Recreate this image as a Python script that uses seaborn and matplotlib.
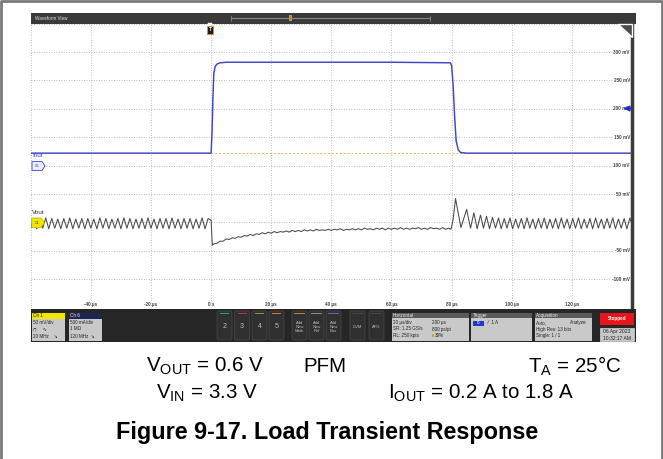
import matplotlib
matplotlib.use("Agg")
import matplotlib.pyplot as plt
from matplotlib.patches import Rectangle, Polygon, FancyBboxPatch
import pandas as pd
import seaborn as sns

# Ch6 output current (A), 500 mA/div
IOUT_T = [-60, -30, 0, 0.3, 0.6, 0.9, 1.3, 2, 3, 5, 20, 40, 60, 79.6,
          80.0, 80.5, 81.0, 81.5, 82.2, 83, 85, 110, 140]
IOUT_A = [0.20, 0.20, 0.20, 0.55, 1.15, 1.60, 1.72, 1.77, 1.79, 1.80, 1.80, 1.80, 1.80, 1.79,
          1.74, 1.40, 0.85, 0.42, 0.26, 0.21, 0.20, 0.20, 0.20]

# Ch1 output voltage (mV, AC), 50 mV/div -- PFM ripple before the step
VOUT_PRE_T = [-60, -59, -58, -57, -56, -55, -54, -53, -52, -51,
              -50, -49, -48, -47, -46, -45, -44, -43, -42, -41,
              -40, -39, -38, -37, -36, -35, -34, -33, -32, -31,
              -30, -29, -28, -27, -26, -25, -24, -23, -22, -21,
              -20, -19, -18, -17, -16, -15, -14, -13, -12, -11,
              -10, -9, -8, -7, -6, -5, -4, -3, -2, -1]
VOUT_PRE_MV = [-10, 7, -11, 6, -10, 8, -11, 7, -10, 6,
               -11, 7, -10, 8, -11, 6, -10, 7, -11, 7,
               -10, 6, -11, 8, -10, 7, -11, 6, -10, 7,
               -11, 8, -10, 7, -11, 6, -10, 7, -11, 8,
               -10, 6, -11, 7, -10, 7, -11, 8, -10, 6,
               -11, 7, -10, 7, -11, 6, -10, 8, -11, 7]
# during the 1.8 A load: undershoot and slow recovery
VOUT_LOAD_T = [0, 0.4, 1, 2, 3, 4, 5, 6, 7, 8, 9, 10, 11, 12, 13, 14, 15, 16, 17, 18, 19,
               20, 21, 22, 23, 24, 25, 26, 27, 28, 29, 30, 31, 32, 33, 34, 35, 36, 37, 38, 39,
               40, 41, 42, 43, 44, 45, 46, 47, 48, 49, 50, 51, 52, 53, 54, 55, 56, 57, 58, 59,
               60, 61, 62, 63, 64, 65, 66, 67, 68, 69, 70, 71, 72, 73, 74, 75, 76, 77, 78, 79, 79.8]
VOUT_LOAD_MV = [4, -40, -37.5, -36.5, -33, -33, -29, -30, -27, -28, -25, -26, -23, -24, -21, -23,
                -20, -21, -18, -20, -17, -19, -16, -18, -16, -17, -15, -17, -14, -16, -14, -16,
                -13, -15, -13, -15, -12, -14, -13, -14, -12, -14, -12, -13, -11, -14, -12, -13,
                -11, -13, -11, -13, -10, -12, -11, -13, -10, -12, -10, -13, -10, -12, -10, -12,
                -9, -12, -10, -12, -10, -11, -9, -12, -10, -12, -9, -11, -10, -12, -9, -12, -10, -12]
# load release: overshoot and ringing back into PFM ripple
VOUT_REL_T = [80.0, 80.5, 81.3, 83.1, 85.0, 86.3, 87.4, 88.5, 89.6, 90.6, 91.6, 92.6, 93.6,
              94.6, 95.6, 96.5, 97.5, 98.4, 99.4, 100.3, 101.3, 102.2, 103.2, 104.1, 105.1,
              106.0, 107.0, 107.9, 108.9, 109.8, 110.8, 111.7, 112.7, 113.6, 114.6, 115.5,
              116.5, 117.4, 118.4, 119.3, 120.3, 121.2, 122.2, 123.1, 124.1, 125.0, 126.0,
              126.9, 127.9, 128.8, 129.8, 130.7, 131.7, 132.6, 133.6, 134.5, 135.5, 136.4,
              137.4, 138.3, 139.3, 140.0]
VOUT_REL_MV = [-11, 5, 42, -9, 23, -10, 17, -11, 13, -10, 11, -11, 9,
               -10, 8, -11, 7, -10, 8, -11, 6, -10, 7, -11, 8,
               -10, 6, -11, 7, -10, 8, -11, 6, -10, 7, -11,
               8, -10, 6, -11, 7, -10, 8, -11, 6, -10, 7,
               -11, 8, -10, 6, -11, 7, -10, 8, -11, 6, -10,
               7, -11, 8, -4]

TIME_TICKS = [-40, -20, 0, 20, 40, 60, 80, 100, 120]
TIME_LABELS = ["-40 µs", "-20 µs", "0 s", "20 µs", "40 µs", "60 µs", "80 µs", "100 µs", "120 µs"]
MV_TICKS = [300, 250, 200, 150, 100, 50, -50, -100]
MV_LABELS = ["300 mV", "250 mV", "200 mV", "150 mV", "100 mV", "50 mV", "-50 mV", "-100 mV"]

IOUT_OFFSET = 102      # screen units at 0 A
IOUT_PER_A = 100       # 500 mA/div, 50 screen units per div
TRIG_A = 1.0

W, H = 663, 459
VOUT_C = "#4a4a4a"
IOUT_C = "#4444c4"
UI_FS = 3.3

sns.set_theme(style="white")
plt.rcParams["font.family"] = ["Liberation Sans", "DejaVu Sans"]
plt.rcParams["mathtext.fontset"] = "custom"
plt.rcParams["mathtext.rm"] = "Liberation Sans"

fig = plt.figure(figsize=(W / 100, H / 100), dpi=100)
fig.patch.set_facecolor("white")

# ---- waveform area ---------------------------------------------------------
L, R, T, B = 30.7, 632, 23.6, 307.7
ax = fig.add_axes([L / W, 1 - B / H, (R - L) / W, (B - T) / H])
ax.set_xlim(-60, 140)
ax.set_ylim(-150, 350)
ax.set_xticks(range(-60, 141, 20))
ax.set_yticks(range(-150, 351, 50))
ax.tick_params(length=0, labelbottom=False, labelleft=False)
ax.grid(True, ls=(0, (1, 2)), color="#a8a8a8", lw=0.6)
for s in ["left", "top", "bottom"]:
    ax.spines[s].set_visible(False)
ax.spines["right"].set_color("#3a3a3a")
ax.spines["right"].set_linewidth(2.5)

vout = pd.concat([
    pd.DataFrame({"t": VOUT_PRE_T, "mv": VOUT_PRE_MV}),
    pd.DataFrame({"t": VOUT_LOAD_T, "mv": VOUT_LOAD_MV}),
    pd.DataFrame({"t": VOUT_REL_T[1:], "mv": VOUT_REL_MV[1:]}),
], ignore_index=True)
iout = pd.DataFrame({"t": IOUT_T, "a": IOUT_A})
iout["screen"] = IOUT_OFFSET + iout["a"] * IOUT_PER_A

# trigger-level reference (orange dashed)
ax.plot([0, 140], [IOUT_OFFSET + IOUT_A[0] * IOUT_PER_A] * 2, ls=(0, (2, 2)),
        color="#f0b060", lw=0.7, zorder=2)
sns.lineplot(data=iout, x="t", y="screen", color=IOUT_C, lw=1.05, estimator=None,
             sort=False, ax=ax, zorder=4)
sns.lineplot(data=vout, x="t", y="mv", color=VOUT_C, lw=0.75, estimator=None,
             sort=False, ax=ax, zorder=4)
ax.set_xlabel("")
ax.set_ylabel("")

for v, lab in zip(MV_TICKS, MV_LABELS):
    ax.text(139.3, v, lab, ha="right", va="center", fontsize=UI_FS, color="#444444",
            fontweight="bold", zorder=5,
            bbox=dict(fc="white", ec="none", pad=0.4))
for t, lab in zip(TIME_TICKS, TIME_LABELS):
    ax.text(t, -145, lab, ha="center", va="center", fontsize=UI_FS, color="#444444",
            fontweight="bold", zorder=5)
# Ch6 trigger level arrow at the right edge
ax.plot([138.2], [IOUT_OFFSET + TRIG_A * IOUT_PER_A], marker="<", ms=3.5, color="#2a2ad0",
        clip_on=False, zorder=6)
ax.plot([137.5, 139.6], [IOUT_OFFSET + TRIG_A * IOUT_PER_A] * 2, color="#2a2ad0", lw=1,
        clip_on=False, zorder=6)

# ---- scope chrome, drawn in pixel coordinates -----------------------------
ov = fig.add_axes([0, 0, 1, 1])
ov.set_xlim(0, W)
ov.set_ylim(H, 0)
ov.axis("off")
ov.patch.set_visible(False)
ov.set_zorder(3)


def box(x, y, w, h, fc, ec="none", lw=0.5, **kw):
    ov.add_patch(Rectangle((x, y), w, h, fc=fc, ec=ec, lw=lw, **kw))


def txt(x, y, s, **kw):
    kw.setdefault("fontsize", UI_FS)
    kw.setdefault("va", "center")
    ov.text(x, y, s, **kw)


# outer frame
ov.plot([1, 1, W - 1, W - 1], [H, 1, 1, H], color="#7a7a7a", lw=2)

# header bar
box(L, 13, R - L + 4, T - 13, "#3a3a3a")
txt(35, 18.3, "Waveform View", color="#e0e0e0")
ov.plot([231, 430], [18, 18], color="#8a8a8a", lw=0.8)
ov.plot([231, 231], [15.5, 20.5], color="#8a8a8a", lw=0.6)
ov.plot([430, 430], [15.5, 20.5], color="#8a8a8a", lw=0.6)
box(289, 15, 3, 6, "#e88a20")

# trigger position marker
box(206.8, 25.5, 6.5, 8, "#1e1e1e", ec="#e88a20", lw=0.7)
txt(210, 29.5, "T", color="white", fontsize=3.5, ha="center", fontweight="bold")
ov.add_patch(Polygon([[208, 23.5], [212, 23.5], [210, 25.5]], fc="#e88a20"))

# zoom corner
ov.add_patch(Polygon([[618, T], [R, T], [R, T + 13]], fc="#4a4a4a"))

# channel labels
txt(32, 155.5, "Iout", color=IOUT_C, fontsize=4.6)
ov.add_patch(Polygon([[32, 161.5], [42, 161.5], [45, 166], [42, 170.5], [32, 170.5]],
                     fc="#ececff", ec=IOUT_C, lw=0.6))
txt(37.5, 166, "C6", color=IOUT_C, fontsize=2.6, ha="center")
txt(32, 213, "Vout", color="#333333", fontsize=4.6)
ov.add_patch(Polygon([[31.7, 218], [41, 218], [44.5, 222.8], [41, 227.6], [31.7, 227.6]],
                     fc="#f2e600", ec="#b8aa00", lw=0.5))
txt(37.5, 222.8, "C1", color="#333333", fontsize=2.6, ha="center")

# status bar
box(L, 308.5, R - L + 4, 33, "#262626")
# Ch 1 / Ch 6 badges
box(31.5, 312.5, 33, 6, "#f2e600")
txt(33, 315.5, "Ch 1", color="#111111")
box(31.5, 318.5, 33, 22, "#c9c9c9")
txt(33, 322.5, "50 mV/div", color="#222222")
txt(33, 329, "⊓     ∿", color="#222222")
txt(33, 336.5, "20 MHz    ↘", color="#222222")
box(68.5, 312.5, 33, 6, "#1f2552")
txt(70, 315.5, "Ch 6", color="#f0f0f0")
box(68.5, 318.5, 33, 22, "#c9c9c9")
txt(70, 322.5, "500 mA/div", color="#222222")
txt(70, 329, "1 MΩ", color="#222222")
txt(70, 336.5, "120 MHz  ↘", color="#222222")

# channel buttons
for x, n, c in zip([217, 234.5, 252, 269], ["2", "3", "4", "5"],
                   ["#1aa3a3", "#c0304a", "#6aa82a", "#d8761c"]):
    ov.add_patch(FancyBboxPatch((x, 311), 15, 29, boxstyle="round,pad=0,rounding_size=1.5",
                                fc="#303030", ec="#4a4a4a", lw=0.5))
    box(x + 3, 313, 9, 1.2, c)
    txt(x + 7.5, 327, n, color="#bdbdbd", fontsize=5, ha="center")
for x, s, c in zip([292, 309, 326], ["Add\nNew\nMath", "Add\nNew\nRef", "Add\nNew\nBus"],
                   ["#d07a20", "#8a8a8a", "#8a4fc0"]):
    ov.add_patch(FancyBboxPatch((x, 311), 15, 29, boxstyle="round,pad=0,rounding_size=1.5",
                                fc="#303030", ec="#4a4a4a", lw=0.5))
    box(x + 2, 313, 11, 1.2, c)
    txt(x + 7.5, 327, s, color="#bdbdbd", fontsize=3, ha="center", linespacing=1.0)
for x, s in zip([350, 369], ["DVM", "AFG"]):
    ov.add_patch(FancyBboxPatch((x, 311), 15, 29, boxstyle="round,pad=0,rounding_size=1.5",
                                fc="#303030", ec="#4a4a4a", lw=0.5))
    box(x + 2, 313, 11, 1.2, "#454545")
    txt(x + 7.5, 327, s, color="#bdbdbd", fontsize=3, ha="center")

# Horizontal / Trigger / Acquisition panels
for x, w, title in [(391.5, 77, "Horizontal"), (471, 61, "Trigger"), (534.5, 57, "Acquisition")]:
    box(x, 312.5, w, 5.5, "#5a5a5a")
    txt(x + 1.5, 315.3, title, color="#f0f0f0")
    box(x, 318, w, 22.5, "#c9c9c9")
txt(393, 322.5, "20 µs/div", color="#222222")
txt(432, 322.5, "200 µs", color="#222222")
txt(393, 329, "SR: 1.25 GS/s", color="#222222")
txt(432, 329, "800 ps/pt", color="#222222")
txt(393, 335.5, "RL: 250 kpts", color="#222222")
box(432, 333.8, 1.8, 3.2, "#d8a020")
txt(435, 335.5, "30%", color="#222222")
box(472.7, 320.5, 11, 5, "#2337c8")
txt(478.2, 323, "6", color="white", ha="center")
txt(488, 323, "⁄   1 A", color="#222222")
txt(536, 322.5, "Auto,", color="#222222")
txt(570, 322.5, "Analyze", color="#222222")
txt(536, 329, "High Res: 13 bits", color="#222222")
txt(536, 335.5, "Single: 1 / 1", color="#222222")
box(600, 312.5, 34, 12.5, "#e8141c")
txt(617, 318.8, "Stopped", color="white", ha="center", fontweight="bold")
box(600, 327.5, 34, 13, "#c9c9c9", ec="#eeeeee", lw=0.4)
txt(617, 331.8, "06 Apr 2023", color="#222222", ha="center", fontsize=3.6)
txt(617, 338.5, "10:32:17 AM", color="#222222", ha="center", fontsize=3.6)

# ---- caption ---------------------------------------------------------------
CAP_FS = 14.8
txt(205, 366, r"$\mathregular{V_{OUT}}$ = 0.6 V", fontsize=CAP_FS, ha="center", color="black")
txt(325, 366, "PFM", fontsize=CAP_FS, ha="center", color="black")
txt(575, 366, r"$\mathregular{T_{A}}$ = 25°C", fontsize=CAP_FS, ha="center", color="black")
txt(207, 393, r"$\mathregular{V_{IN}}$ = 3.3 V", fontsize=CAP_FS, ha="center", color="black")
txt(481, 393, r"$\mathregular{I_{OUT}}$ = 0.2 A to 1.8 A", fontsize=CAP_FS, ha="center",
    color="black")
txt(327, 433, "Figure 9-17. Load Transient Response", fontsize=16.8, ha="center",
    fontweight="bold", color="black")

fig.savefig("out.png", dpi=100)
